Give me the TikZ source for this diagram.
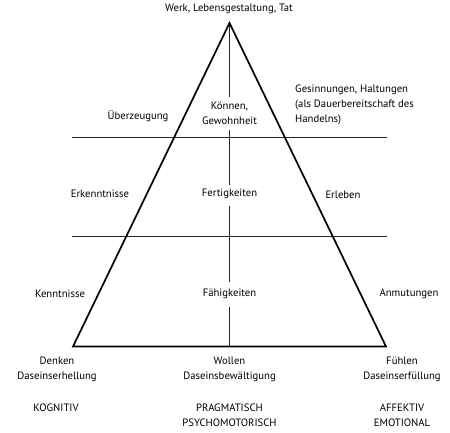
\documentclass[tikz,border=0pt]{standalone}
\usepackage{fontspec}
\setmainfont{PT Sans}
\begin{document}
\begin{tikzpicture}[x=1pt,y=-1pt,
  lbl/.style={inner sep=1pt, font=\fontsize{10.7}{15}\selectfont, align=center},
  lbll/.style={lbl, align=left, anchor=west},
  tri/.style={line width=1.7pt, line join=miter},
  thin/.style={line width=0.75pt, draw=black!85}]
\useasboundingbox (0,0) rectangle (450,433);
\coordinate (apex) at (229.5,23);
\coordinate (bl) at (73,346.5);
\coordinate (br) at (386,346.5);
\coordinate (bm) at (229.5,346.5);
\coordinate (h1l) at (72,137);
\coordinate (h1r) at (387,137);
\coordinate (h2l) at (72,236);
\coordinate (h2r) at (387,236);
% labels
\node[lbl] (top) at (229,9) {Werk, Lebensgestaltung, Tat};
\node[lbl] (ueb) at (138,116) {Überzeugung};
\node[lbl] (koe) at (229.5,113.5) {Können,\\Gewohnheit};
\node[lbll] (ges) at (294,105) {Gesinnungen, Haltungen\\(als Dauerbereitschaft des\\Handelns)};
\node[lbl] (erk) at (100,194) {Erkenntnisse};
\node[lbl] (fer) at (229.5,194) {Fertigkeiten};
\node[lbl] (erl) at (343,195) {Erleben};
\node[lbl] (ken) at (60,294) {Kenntnisse};
\node[lbl] (fae) at (229.5,294) {Fähigkeiten};
\node[lbl] (anm) at (409,294) {Anmutungen};
\node[lbl] (den) at (57,369.5) {Denken\\Daseinserhellung};
\node[lbl] (wol) at (229.5,369.5) {Wollen\\Daseinsbewältigung};
\node[lbl] (fue) at (402,369.5) {Fühlen\\Daseinserfüllung};
\node[lbl] (kog) at (56,408) {KOGNITIV};
\node[lbl] (pra) at (229.5,415.5) {PRAGMATISCH\\PSYCHOMOTORISCH};
\node[lbl] (aff) at (402,415.5) {AFFEKTIV\\EMOTIONAL};
% inner lines
\draw[thin] (h1l) -- (h1r);
\draw[thin] (h2l) -- (h2r);
\draw[thin] (apex) -- (229.5,97);
\draw[thin] (229.5,130) -- (229.5,185);
\draw[thin] (229.5,206) -- (229.5,282);
\draw[thin] (229.5,307) -- (bm);
% triangle
\draw[tri] (apex) -- (br) -- (bl) -- cycle;
\end{tikzpicture}
\end{document}
